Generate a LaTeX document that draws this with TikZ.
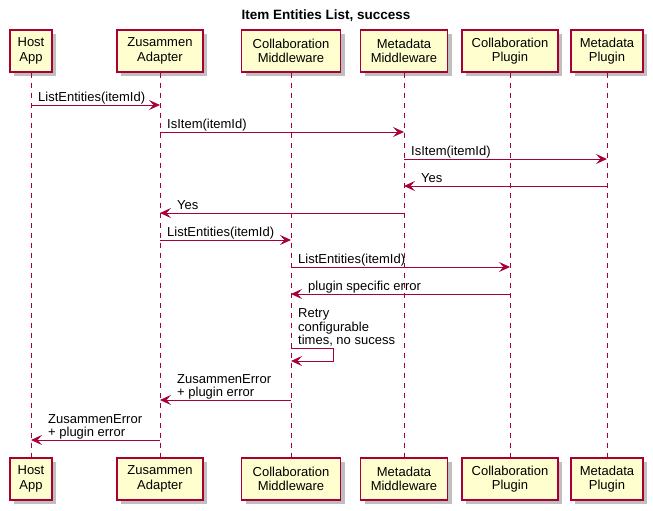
\documentclass[tikz,border=0pt]{standalone}
\usepackage{fontspec}
\setmainfont{Liberation Sans}
\usetikzlibrary{arrows.meta,shadows}
\definecolor{umlred}{HTML}{A80036}
\definecolor{umlfill}{HTML}{FEFECE}
\tikzset{
  actor/.style={draw=umlred, line width=1.2pt, fill=umlfill, align=center, inner sep=0pt,
    minimum height=42pt, font=\fontsize{13}{14.5}\selectfont,
    drop shadow={shadow xshift=4pt, shadow yshift=-4pt, opacity=0.25, fill=black}},
  life/.style={umlred, line width=0.9pt, dash pattern=on 5pt off 5pt},
  msg/.style={umlred, line width=1pt, -{Stealth[length=11pt,width=10pt,inset=4.5pt]}},
  lbl/.style={anchor=base west, inner sep=0pt, align=left, font=\fontsize{13}{13.3}\selectfont},
}
\begin{document}
\begin{tikzpicture}[x=1pt, y=-1pt]
            \useasboundingbox (0,0) rectangle (653,511);
            \node[anchor=base, font=\bfseries\fontsize{13.5}{16}\selectfont] (title) at (326,20) {Item Entities List, success};
            % participants, top and bottom
            \node[actor, minimum width=42pt] (host) at (31,51) {Host\\App};
            \node[actor, minimum width=86pt] (adapter) at (160,51) {Zusammen\\Adapter};
            \node[actor, minimum width=99pt] (collabmw) at (291,51) {Collaboration\\Middleware};
            \node[actor, minimum width=87pt] (metamw) at (404,51) {Metadata\\Middleware};
            \node[actor, minimum width=96pt] (collabplug) at (510,51) {Collaboration\\Plugin};
            \node[actor, minimum width=72pt] (metaplug) at (607,51) {Metadata\\Plugin};
            \node[actor, minimum width=42pt] (hostb) at (31,479) {Host\\App};
            \node[actor, minimum width=86pt] (adapterb) at (160,479) {Zusammen\\Adapter};
            \node[actor, minimum width=99pt] (collabmwb) at (291,479) {Collaboration\\Middleware};
            \node[actor, minimum width=87pt] (metamwb) at (404,479) {Metadata\\Middleware};
            \node[actor, minimum width=96pt] (collabplugb) at (510,479) {Collaboration\\Plugin};
            \node[actor, minimum width=72pt] (metaplugb) at (607,479) {Metadata\\Plugin};
            % lifelines
            \draw[life] (host.south) -- (hostb.north);
            \draw[life] (adapter.south) -- (adapterb.north);
            \draw[life] (collabmw.south) -- (collabmwb.north);
            \draw[life] (metamw.south) -- (metamwb.north);
            \draw[life] (collabplug.south) -- (collabplugb.north);
            \draw[life] (metaplug.south) -- (metaplugb.north);
            % messages
            \draw[msg] (host |- 0,105) -- (adapter |- 0,105);
            \node[lbl] (m1) at ([xshift=7pt]host |- 0,101.5) {ListEntities(itemId)};
            \draw[msg] (adapter |- 0,132) -- (metamw |- 0,132);
            \node[lbl] (m2) at ([xshift=7pt]adapter |- 0,128.5) {IsItem(itemId)};
            \draw[msg] (metamw |- 0,159) -- (metaplug |- 0,159);
            \node[lbl] (m3) at ([xshift=7pt]metamw |- 0,155.5) {IsItem(itemId)};
            \draw[msg] (metaplug |- 0,186) -- (metamw |- 0,186);
            \node[lbl] (m4) at ([xshift=17pt]metamw |- 0,182.5) {Yes};
            \draw[msg] (metamw |- 0,213) -- (adapter |- 0,213);
            \node[lbl] (m5) at ([xshift=17pt]adapter |- 0,209.5) {Yes};
            \draw[msg] (adapter |- 0,240) -- (collabmw |- 0,240);
            \node[lbl] (m6) at ([xshift=7pt]adapter |- 0,236.5) {ListEntities(itemId)};
            \draw[msg] (collabmw |- 0,267) -- (collabplug |- 0,267);
            \node[lbl] (m7) at ([xshift=7pt]collabmw |- 0,263.5) {ListEntities(itemId)};
            \draw[msg] (collabplug |- 0,294) -- (collabmw |- 0,294);
            \node[lbl] (m8) at ([xshift=17pt]collabmw |- 0,290.5) {plugin specific error};
            \draw[msg] (collabmw |- 0,348) -- ++(42,0) -- ++(0,13) -- (collabmw |- 0,361);
            \node[lbl] (m9) at ([xshift=7pt]collabmw |- 0,344.5) {Retry\\configurable\\times, no sucess};
            \draw[msg] (collabmw |- 0,400) -- (adapter |- 0,400);
            \node[lbl] (m10) at ([xshift=17pt]adapter |- 0,396.5) {ZusammenError\\+ plugin error};
            \draw[msg] (adapter |- 0,440) -- (host |- 0,440);
            \node[lbl] (m11) at ([xshift=17pt]host |- 0,436.5) {ZusammenError\\+ plugin error};
        \end{tikzpicture}
\end{document}
